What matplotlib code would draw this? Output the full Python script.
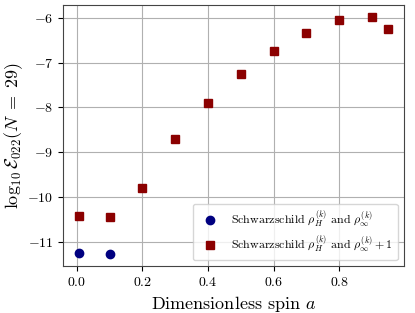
import numpy as np
import matplotlib
matplotlib.use('Agg')
import matplotlib.pyplot as plt

plt.rcParams['font.family'] = 'serif'
plt.rcParams['font.serif'] = ['cmr10']
plt.rcParams['mathtext.fontset'] = 'cm'
plt.rcParams['axes.formatter.use_mathtext'] = True

spin_circ = [0.005, 0.1]
err_circ = [-11.25, -11.27]

spin_sq = [0.005, 0.1, 0.2, 0.3, 0.4, 0.5, 0.6, 0.7, 0.8, 0.9, 0.95]
err_sq = [-10.42, -10.44, -9.8, -8.7, -7.89, -7.26, -6.75, -6.35, -6.05, -5.98, -6.25]

fig, ax = plt.subplots(figsize=(4.15, 3.13), dpi=100)
ax.plot(spin_circ, err_circ, 'o', color='navy', markersize=6,
        label=r'Schwarzschild $\rho_H^{(k)}$ and $\rho_\infty^{(k)}$')
ax.plot(spin_sq, err_sq, 's', color='darkred', markersize=6,
        label=r'Schwarzschild $\rho_H^{(k)}$ and $\rho_\infty^{(k)}+1$')
ax.grid(True, color='#b0b0b0', linewidth=0.8)
ax.set_axisbelow(True)
ax.set_xlabel(r'Dimensionless spin $a$', fontsize=13)
ax.set_ylabel(r'$\log_{10}\mathcal{E}_{022}(N\;=\;29)$', fontsize=13, labelpad=2)
ax.tick_params(labelsize=10)
for s in ax.spines.values():
    s.set_color('#444444')
ax.legend(loc='lower right', fontsize=8.6, labelspacing=0.3)
fig.subplots_adjust(left=0.152, right=0.973, top=0.984, bottom=0.15)
fig.savefig('out.png', dpi=100)
